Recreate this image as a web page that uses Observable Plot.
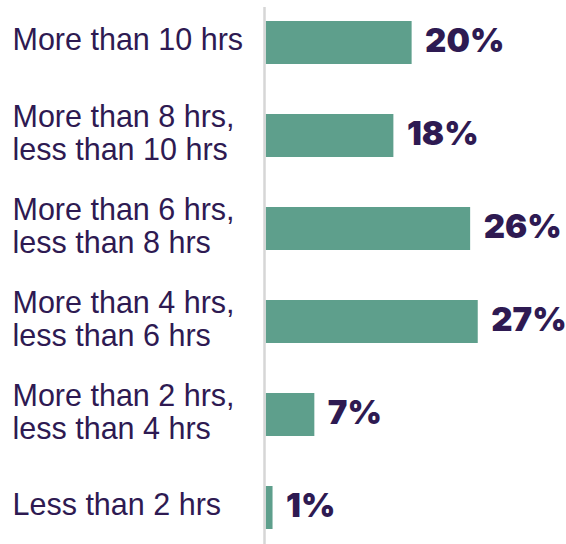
<!DOCTYPE html>
<html>
<head>
<meta charset="utf-8">
<script src="https://cdn.jsdelivr.net/npm/d3@7"></script>
<script src="https://cdn.jsdelivr.net/npm/@observablehq/plot@0.6"></script>
<style>
  html, body { margin: 0; padding: 0; background: #ffffff; }
  #chart svg { display: block; }
</style>
</head>
<body>
<div id="chart"></div>
<script>
// Categories (top to bottom)
const categories = [
  "More than 10 hrs",
  "More than 8 hrs,\nless than 10 hrs",
  "More than 6 hrs,\nless than 8 hrs",
  "More than 4 hrs,\nless than 6 hrs",
  "More than 2 hrs,\nless than 4 hrs",
  "Less than 2 hrs"
];
// Bar lengths (percent)
const shares = [19.2, 16.8, 26.9, 27.9, 6.4, 0.9];
// Printed value labels
const valueLabels = ["20%", "18%", "26%", "27%", "7%", "1%"];

const data = categories.map((c, i) => ({
  key: "c" + i,
  category: c,
  share: shares[i],
  label: valueLabels[i]
}));

const ink = "#2e1a52";
const teal = "#5e9f8c";

const chart = Plot.plot({
  width: 566,
  height: 544,
  marginTop: 7,
  marginBottom: 0,
  marginLeft: 266,
  marginRight: 0,
  style: { background: "#ffffff" },
  x: { domain: [0, 30], range: [265.7, 265.7 + 30 * 7.6], axis: null },
  y: {
    domain: data.map(d => d.key),
    range: [-5.5, 556.1],
    paddingInner: 0.54,
    paddingOuter: 0.27,
    axis: null
  },
  marks: [
    Plot.barX(data, { x: "share", y: "key", fill: teal }),
    Plot.ruleX([0], { dx: -1.7, stroke: "#d6d6d6", strokeWidth: 2.5 }),
    Plot.text(data, {
      x: "share",
      y: "key",
      text: "label",
      textAnchor: "start",
      dx: 13,
      dy: -2,
      fill: ink,
      fontSize: 33,
      fontWeight: 900,
      fontFamily: "Inter, 'Liberation Sans', sans-serif",
      letterSpacing: "-1.5px"
    }),
    Plot.text(data, {
      y: "key",
      text: "category",
      frameAnchor: "left",
      textAnchor: "start",
      dx: -254,
      dy: -3,
      lineHeight: 1.06,
      fill: ink,
      fontSize: 30.5,
      fontFamily: "'Liberation Sans', Arial, sans-serif"
    })
  ]
});

document.getElementById("chart").appendChild(chart);
</script>
</body>
</html>
